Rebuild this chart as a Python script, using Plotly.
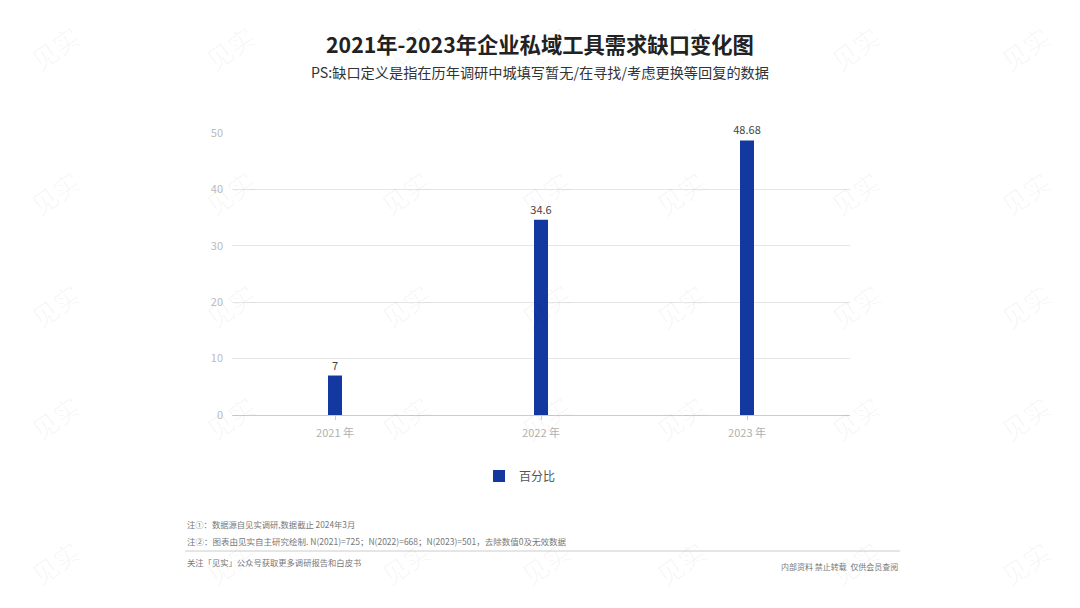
import plotly.graph_objects as go

categories = ["2021 年", "2022 年", "2023 年"]
values = [7, 34.6, 48.68]
value_labels = ["7", "34.6", "48.68"]
series_name = "百分比"
y_ticks = [0, 10, 20, 30, 40, 50]

W, H = 1080, 608
L, R, T, B = 232, 230, 133, 193
PW, PH = W - L - R, H - T - B

def px(x):
    return (x - L) / PW

def py(y):
    return (H - B - y) / PH

FONT = "Noto Sans CJK SC"

fig = go.Figure()
fig.add_trace(go.Bar(
    x=categories, y=values, name=series_name,
    marker=dict(color="#13389F", line=dict(width=0)),
    text=value_labels, textposition="outside",
    textfont=dict(size=11, color="#444444", family=FONT),
    cliponaxis=False,
))

fig.update_layout(
    width=W, height=H,
    margin=dict(l=L, r=R, t=T, b=B),
    paper_bgcolor="white", plot_bgcolor="white",
    bargap=0.932,
    uniformtext=dict(mode="show", minsize=11),
    font=dict(family=FONT),
    showlegend=True,
    legend=dict(orientation="h", x=px(520), xanchor="center", y=py(476), yanchor="middle",
                font=dict(size=12, color="#555555", family=FONT)),
    xaxis=dict(showgrid=False, showline=True, linecolor="#cccccc", linewidth=1,
               ticks="outside", ticklen=4, tickcolor="#cccccc", ticklabelstandoff=4,
               tickfont=dict(size=11, color="#b0b0b0", family=FONT)),
    yaxis=dict(range=[0, 50], tickvals=y_ticks, showgrid=True, gridcolor="#e6e6e6",
               zeroline=False, showline=False, ticklabelstandoff=8,
               tickfont=dict(size=11, color="#bbbbbb", family=FONT)),
)

fig.add_annotation(text="<b>2021年-2023年企业私域工具需求缺口变化图</b>", xref="paper", yref="paper",
                   x=px(540), y=py(43), xanchor="center", yanchor="middle", showarrow=False,
                   font=dict(size=21.3, color="#222222", family=FONT))
fig.add_annotation(text="PS:缺口定义是指在历年调研中城填写暂无/在寻找/考虑更换等回复的数据", xref="paper", yref="paper",
                   x=px(540), y=py(72), xanchor="center", yanchor="middle", showarrow=False,
                   font=dict(size=14.2, color="#333333", family=FONT))

notes = [
    ("注①：数据源自见实调研,数据截止 2024年3月", 524, 185, "left", 8.3),
    ("注②：图表由见实自主研究绘制. N(2021)=725；N(2022)=668；N(2023)=501，去除数值0及无效数据", 541, 185, "left", 8.5),
    ("关注「见实」公众号获取更多调研报告和白皮书", 562, 185, "left", 8.3),
    ("内部资料 禁止转载  仅供会员查阅", 566, 900, "right", 8),
]
for t, yy, xx, anc, fs in notes:
    fig.add_annotation(text=t, xref="paper", yref="paper", x=px(xx), y=py(yy),
                       xanchor=anc, yanchor="middle", showarrow=False,
                       font=dict(size=fs, color="#777777", family=FONT))

fig.add_shape(type="line", xref="paper", yref="paper", x0=px(185), x1=px(900), y0=py(551), y1=py(551),
              line=dict(color="#cccccc", width=1))

# faint watermarks
for wx in [20, 195, 370, 545, 715, 890, 1060]:
    for wy in [15, 160, 305, 450, 595]:
        fig.add_annotation(text="见实", xref="paper", yref="paper", x=px(wx), y=py(wy),
                           showarrow=False, textangle=-35,
                           font=dict(size=26, color="rgba(0,0,0,0.035)", family=FONT))

fig.write_html("out.html", config={"displayModeBar": False},
               post_script="document.body.style.margin='0';document.body.style.overflow='hidden';")
